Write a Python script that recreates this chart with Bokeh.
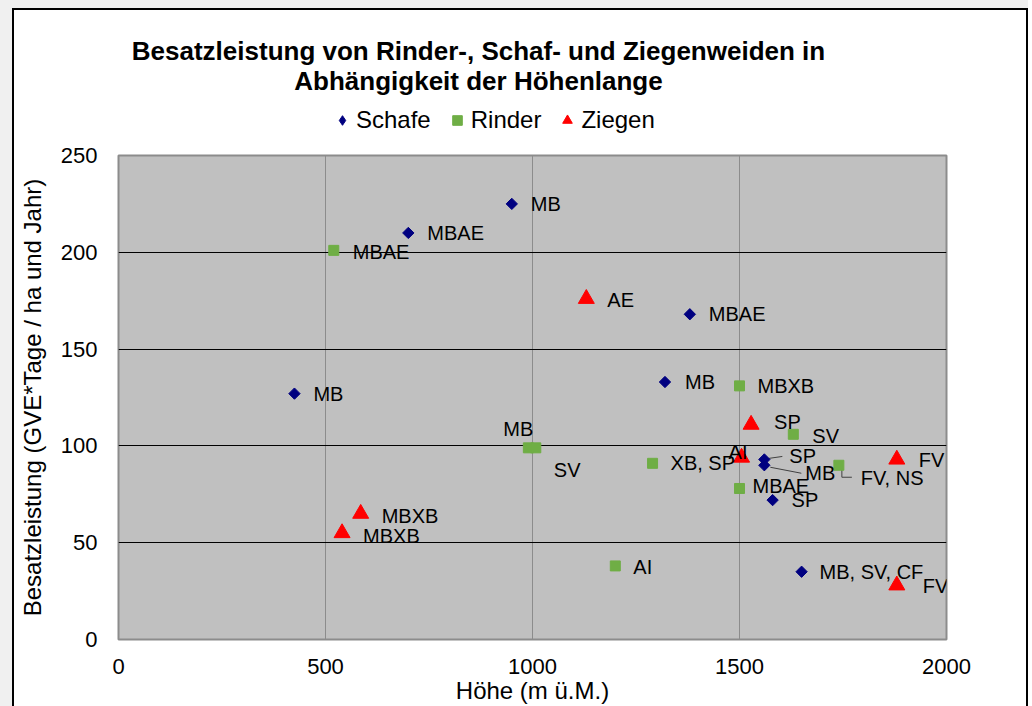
import math
from bokeh.plotting import figure
from bokeh.layouts import column
from bokeh.models import ColumnDataSource, Legend, LegendItem, Range1d, FixedTicker, Label
from bokeh.embed import file_html
from bokeh.resources import INLINE
from bokeh.core.properties import value

# ---------------- data ----------------
schafe_x = [425, 700, 950, 1380, 1320, 1560, 1560, 1580, 1650]
schafe_y = [127, 210, 225, 168, 133, 93, 90, 72, 35]
schafe_lab = ["MB", "MBAE", "MB", "MBAE", "MB", "SP", "MB", "SP", "MB, SV, CF"]

rinder_x = [520, 990, 1008, 1290, 1500, 1500, 1630, 1740, 1200]
rinder_y = [201, 99, 99, 91, 131, 78, 106, 90, 38]
rinder_lab = ["MBAE", "MB", "SV", "XB, SP", "MBXB", "MBAE", "SV", "FV, NS", "AI"]

ziegen_x = [1130, 585, 540, 1528, 1505, 1880, 1880]
ziegen_y = [176, 65, 55, 111, 94, 93, 28]
ziegen_lab = ["AE", "MBXB", "MBXB", "SP", "AI", "FV", "FV"]

series_names = ["Schafe", "Rinder", "Ziegen"]
x_ticks = [0, 500, 1000, 1500, 2000]
y_ticks = [0, 50, 100, 150, 200, 250]

title_lines = ["Besatzleistung von Rinder-, Schaf- und Ziegenweiden in",
               "Abhängigkeit der Höhenlange"]
x_title = "Höhe (m ü.M.)"
y_title = "Besatzleistung (GVE*Tage / ha und Jahr)"

# ---------------- layout (pixel offsets of data labels) ----------------
schafe_off = [(19, 0), (19, 0), (19, 0), (19, 0), (20, 0), (25, -3), (41, 8), (19, 0), (18, 0)]
rinder_off = [(19, 2), (-25, -19), (18, 22), (18, 0), (18, 0), (13, -2), (19, 2), (22, 13), (18, 1)]
ziegen_off = [(21, 1), (21, 2), (21, 3), (23, -3), (-13, -6), (22, 1), (26, 1)]

W = 1012
HH = 132                      # header (title + legend)
H = 696 - HH
ML, MR, MB_ = 104, 80, 66
MT = 155 - 10 - HH
FW, FH = W - ML - MR, H - MT - MB_
XMAX, YMAX = 2000, 250
xpp, ypp = XMAX / FW, YMAX / FH

FONT = "Liberation Sans"
NAVY, GREEN, RED = "#000080", "#6FAE45", "#FF0000"
S_STYLE = dict(marker="square", angle=math.pi / 4, size=8, fill_color=NAVY, line_color=NAVY)
R_STYLE = dict(marker="square", size=10, fill_color=GREEN, line_color=GREEN)
Z_STYLE = dict(marker="triangle", size=16, fill_color=RED, line_color=RED)

# ---------------- header: title + legend (frame aligned with main frame) ----------------
hdr = figure(width=W, height=HH, output_backend="svg", toolbar_location=None,
             title_location=None, x_axis_type=None, y_axis_type=None,
             x_range=Range1d(0, FW), y_range=Range1d(HH, 0),
             min_border_left=ML, min_border_right=MR, min_border_top=0, min_border_bottom=0)
hdr.outline_line_color = None
hdr.background_fill_color = "white"
hdr.border_fill_color = "white"
hdr.grid.visible = False

for txt, yy in ((title_lines[0], 40), (title_lines[1], 70)):
    hdr.add_layout(Label(x=360, y=yy, text=txt, text_align="center", text_baseline="middle",
                         text_font=FONT, text_font_size="26px", text_font_style="bold",
                         text_color="black"))

nan = [float("nan")]
h_s = hdr.scatter(nan, nan, marker="diamond", size=8, fill_color=NAVY, line_color=NAVY)
h_r = hdr.scatter(nan, nan, **R_STYLE)
h_z = hdr.scatter(nan, nan, **Z_STYLE)
legend = Legend(items=[LegendItem(label=series_names[0], renderers=[h_s]),
                       LegendItem(label=series_names[1], renderers=[h_r]),
                       LegendItem(label=series_names[2], renderers=[h_z])],
                orientation="horizontal", location=(212, 8),
                background_fill_alpha=0, border_line_color=None,
                label_text_font=FONT, label_text_font_size="24px", label_text_color="black",
                glyph_width=24, glyph_height=24, label_standoff=2, spacing=14,
                padding=0, margin=0)
hdr.add_layout(legend, "center")

# ---------------- main plot ----------------
p = figure(width=W, height=H, output_backend="svg", toolbar_location=None,
           title_location=None,
           x_range=Range1d(0, XMAX), y_range=Range1d(0, YMAX),
           min_border_left=ML, min_border_right=MR, min_border_top=MT, min_border_bottom=MB_)
p.background_fill_color = "#C0C0C0"
p.border_fill_color = "white"
p.outline_line_color = "#8C8C8C"
p.outline_line_width = 2

p.xaxis.ticker = FixedTicker(ticks=x_ticks)
p.yaxis.ticker = FixedTicker(ticks=y_ticks)
p.xgrid.ticker = FixedTicker(ticks=x_ticks[1:-1])
p.ygrid.ticker = FixedTicker(ticks=y_ticks[:-1])
p.xgrid.grid_line_color = "#8C8C8C"
p.ygrid.grid_line_color = "black"
for ax in (p.xaxis, p.yaxis):
    ax.axis_line_color = None
    ax.major_tick_line_color = None
    ax.minor_tick_line_color = None
    ax.major_label_text_font = FONT
    ax.major_label_text_font_size = "22px"
    ax.major_label_text_color = "black"
    ax.axis_label_text_font = FONT
    ax.axis_label_text_font_size = "24px"
    ax.axis_label_text_font_style = "normal"
    ax.axis_label_text_color = "black"
p.xaxis.major_label_standoff = 13
p.yaxis.major_label_standoff = 15
p.xaxis.axis_label = x_title
p.yaxis.axis_label = y_title
p.xaxis.axis_label_standoff = 0
p.yaxis.axis_label_standoff = 12


def leader(pts_px, x0, y0):
    xs = [x0 + dx * xpp for dx, dy in pts_px]
    ys = [y0 - dy * ypp for dx, dy in pts_px]
    p.line(xs, ys, line_color="#404040", line_width=1)


# leader lines
leader([(4, -1), (18, -3)], schafe_x[5], schafe_y[5])
leader([(6, 2), (37, 8)], schafe_x[6], schafe_y[6])
leader([(3, 3), (3, 12), (13, 12)], rinder_x[7], rinder_y[7])

p.scatter(schafe_x, schafe_y, **S_STYLE)
p.scatter(rinder_x, rinder_y, **R_STYLE)
p.scatter(ziegen_x, ziegen_y, **Z_STYLE)

for xs, ys, labs, offs in ((schafe_x, schafe_y, schafe_lab, schafe_off),
                           (rinder_x, rinder_y, rinder_lab, rinder_off),
                           (ziegen_x, ziegen_y, ziegen_lab, ziegen_off)):
    src = ColumnDataSource(dict(x=xs, y=ys, t=labs,
                                dx=[o[0] for o in offs], dy=[o[1] for o in offs]))
    p.text(x="x", y="y", text="t", x_offset="dx", y_offset="dy", source=src,
           text_font=value(FONT), text_font_size="20px", text_color="black",
           text_align="left", text_baseline="middle")

inner = column(hdr, p, spacing=0,
               styles={"border-top": "2px solid black", "border-left": "2px solid black",
                       "border-right": "2px solid black", "background-color": "white"})
lay = column(inner, spacing=0, styles={"background-color": "#F0F0F0", "padding-left": "12px",
                                       "padding-top": "8px"})

open("out.html", "w").write(file_html(lay, INLINE))
